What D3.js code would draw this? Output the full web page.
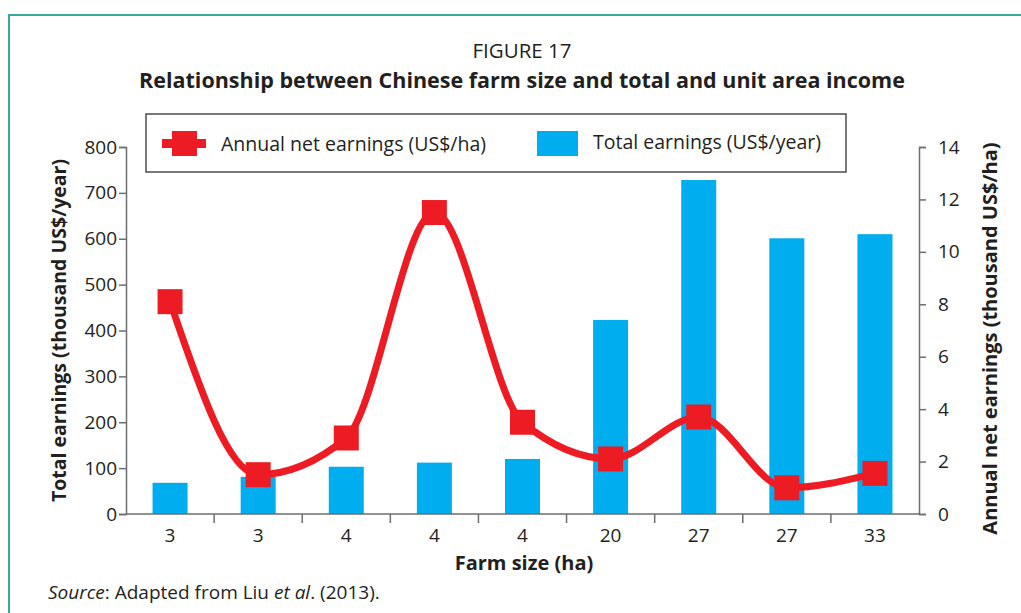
<!DOCTYPE html>
<html>
<head>
<meta charset="utf-8">
<title>Figure 17</title>
<style>
  body { margin: 0; background: #fff; }
  svg text { font-family: "Open Sans", "Noto Sans", sans-serif; fill: #231f20; }
  .axis path, .axis line { stroke: #6d6e70; stroke-width: 1.5; fill: none; }
  .axis text { font-size: 19px; fill: #231f20; }
</style>
</head>
<body>
<svg id="chart" width="1021" height="613"></svg>
<script src="https://d3js.org/d3.v7.min.js"></script>
<script>
// data
var farmSizes = ["3", "3", "4", "4", "4", "20", "27", "27", "33"];
var totalEarnings = [68, 81, 103, 112, 120, 423, 728, 601, 610];      // thousand US$/year
var netEarnings = [8.1, 1.5, 2.9, 11.5, 3.5, 2.1, 3.7, 1.0, 1.55];    // thousand US$/ha
var leftTicks = [0, 100, 200, 300, 400, 500, 600, 700, 800];
var rightTicks = [0, 2, 4, 6, 8, 10, 12, 14];

var svg = d3.select("#chart");
var x0 = 126, x1 = 919, yTop = 147, yBot = 514;

// teal frame
svg.append("path")
  .attr("d", "M9,613 L9,15 L1021,15")
  .attr("fill", "none")
  .attr("stroke", "#3aa6a0")
  .attr("stroke-width", 2);

// titles
svg.append("text").attr("x", 522).attr("y", 58).attr("text-anchor", "middle")
  .style("font-size", "20.5px").text("FIGURE 17");
svg.append("text").attr("x", 522).attr("y", 88).attr("text-anchor", "middle")
  .style("font-size", "21.5px").style("font-weight", "bold")
  .text("Relationship between Chinese farm size and total and unit area income");

// scales
var idx = farmSizes.map(function(d, i) { return i; });
var x = d3.scaleBand().domain(idx).range([x0, x1]).paddingInner(0).paddingOuter(0);
var yL = d3.scaleLinear().domain([0, 800]).range([yBot, yTop]);
var yR = d3.scaleLinear().domain([0, 14]).range([yBot, yTop]);

// bars
var barW = 35;
svg.selectAll(".bar")
  .data(totalEarnings)
  .enter().append("rect")
  .attr("class", "bar")
  .attr("x", function(d, i) { return x(i) + x.bandwidth() / 2 - barW / 2; })
  .attr("width", barW)
  .attr("y", function(d) { return yL(d); })
  .attr("height", function(d) { return yBot - yL(d); })
  .attr("fill", "#00adef");

// axes
var leftAxis = d3.axisLeft(yL).tickValues(leftTicks).tickSize(7).tickPadding(2);
svg.append("g").attr("class", "axis").attr("transform", "translate(" + x0 + ",0)").call(leftAxis);

var rightAxis = d3.axisRight(yR).tickValues(rightTicks).tickSize(7).tickPadding(12);
svg.append("g").attr("class", "axis").attr("transform", "translate(" + x1 + ",0)").call(rightAxis);

var bottomAxis = d3.axisBottom(x).tickFormat(function(i) { return farmSizes[i]; }).tickSize(0).tickPadding(15);
var gb = svg.append("g").attr("class", "axis").attr("transform", "translate(0," + yBot + ")").call(bottomAxis);
gb.select(".domain").attr("d", "M" + x0 + ",0H" + x1);
// ticks between categories
gb.selectAll(".sep")
  .data(idx.slice(1))
  .enter().append("line")
  .attr("x1", function(i) { return x(i); })
  .attr("x2", function(i) { return x(i); })
  .attr("y1", 0).attr("y2", 9);

// line
var line = d3.line()
  .x(function(d, i) { return x(i) + x.bandwidth() / 2; })
  .y(function(d) { return yR(d); })
  .curve(d3.curveMonotoneX);
svg.append("path")
  .datum(netEarnings)
  .attr("d", line)
  .attr("fill", "none")
  .attr("stroke", "#ed1c24")
  .attr("stroke-width", 7);

var mk = 25;
svg.selectAll(".marker")
  .data(netEarnings)
  .enter().append("rect")
  .attr("x", function(d, i) { return x(i) + x.bandwidth() / 2 - mk / 2; })
  .attr("y", function(d) { return yR(d) - mk / 2; })
  .attr("width", mk).attr("height", mk)
  .attr("fill", "#ed1c24");

// axis titles
svg.append("text")
  .attr("transform", "translate(66," + ((yTop + yBot) / 2) + ") rotate(-90)")
  .attr("text-anchor", "middle")
  .style("font-size", "19.5px").style("font-weight", "bold")
  .text("Total earnings (thousand US$/year)");
svg.append("text")
  .attr("transform", "translate(997," + ((yTop + yBot) / 2 + 8) + ") rotate(-90)")
  .attr("text-anchor", "middle")
  .style("font-size", "20px").style("font-weight", "bold")
  .text("Annual net earnings (thousand US$/ha)");
svg.append("text").attr("x", 524).attr("y", 570).attr("text-anchor", "middle")
  .style("font-size", "20px").style("font-weight", "bold").text("Farm size (ha)");

// source
var src = svg.append("text").attr("x", 48).attr("y", 599).style("font-size", "19px");
src.append("tspan").style("font-style", "italic").text("Source");
src.append("tspan").text(": Adapted from Liu ");
src.append("tspan").style("font-style", "italic").text("et al");
src.append("tspan").text(". (2013).");

// legend
var lg = svg.append("g");
lg.append("rect").attr("x", 146).attr("y", 114).attr("width", 700).attr("height", 58)
  .attr("fill", "#fff").attr("stroke", "#4d4d4f").attr("stroke-width", 1.5);
lg.append("line").attr("x1", 162).attr("x2", 206).attr("y1", 143.5).attr("y2", 143.5)
  .attr("stroke", "#ed1c24").attr("stroke-width", 9);
lg.append("rect").attr("x", 172).attr("y", 131).attr("width", 25).attr("height", 25).attr("fill", "#ed1c24");
lg.append("text").attr("x", 221).attr("y", 151).style("font-size", "19.5px")
  .text("Annual net earnings (US$/ha)");
lg.append("rect").attr("x", 537).attr("y", 131).attr("width", 41).attr("height", 25).attr("fill", "#00adef");
lg.append("text").attr("x", 593).attr("y", 149).style("font-size", "19.5px")
  .text("Total earnings (US$/year)");
</script>
</body>
</html>
